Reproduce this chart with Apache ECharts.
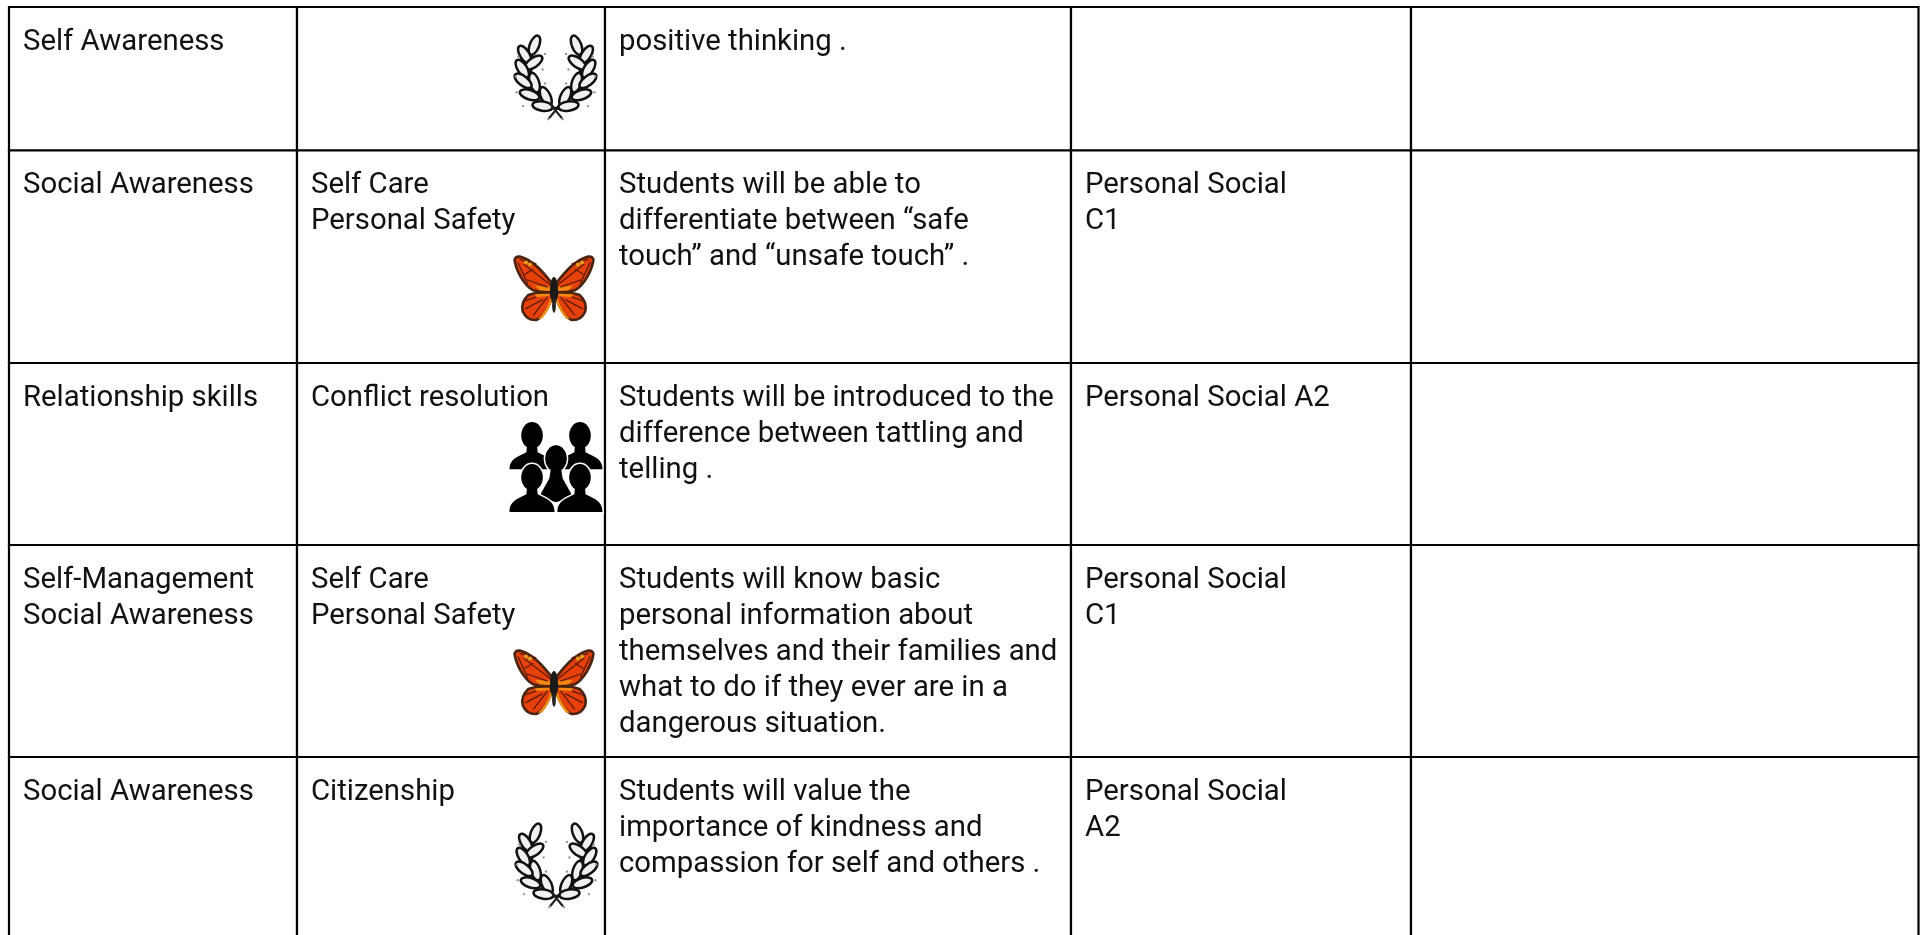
<!DOCTYPE html>
<html><head><meta charset="utf-8">
<style>html,body{margin:0;padding:0;background:#fff}#c{width:1925px;height:935px}</style>
<script src="https://cdn.jsdelivr.net/npm/echarts@6/dist/echarts.min.js"></script>
</head><body><div id="c"></div>
<script>
// Table content
const col1 = [["Self Awareness"],["Social Awareness"],["Relationship skills"],["Self-Management","Social Awareness"],["Social Awareness"]];
const col2 = [[],["Self Care","Personal Safety"],["Conflict resolution"],["Self Care","Personal Safety"],["Citizenship"]];
const col3 = [["positive thinking ."],
 ["Students will be able to","differentiate between “safe","touch” and “unsafe touch” ."],
 ["Students will be introduced to the","difference between tattling and","telling ."],
 ["Students will know basic","personal information about","themselves and their families and","what to do if they ever are in a","dangerous situation."],
 ["Students will value the","importance of kindness and","compassion for self and others ."]];
const col4 = [[],["Personal Social","C1"],["Personal Social A2"],["Personal Social","C1"],["Personal Social","A2"]];
const col5 = [[],[],[],[],[]];
const columns = [col1,col2,col3,col4,col5];
const icons = ["laurel","butterfly","people","butterfly","laurel"];
// Table grid edges on the page-sized value axes
const xEdges = [9,297,605,1071,1411,1918.5];
const yEdges = [7,150.5,363,545,757,950];
const iconBoxes = [[515,33,81,87],[514,256,80,66],[509,423,94,89],[514,650,80,66],[516,821,81,87]];

const FONT = 'Roboto';
const FS = 29.33, LH = 36;

// Laurel wreath in a 0..100 box
function laurel(box){
  const out=[]; const [x,y,w,h]=box; const sx=w/100, sy=h/100;
  const leaves=[[24,14,68],[12,25,122],[23,34,35],[9,41,122],[24,57,108],[10,55,142],[18,71,162],[38,73,115],[34,84,172]];
  const dots=[[37,24],[34,42],[4,27],[37,58],[1,50],[2,68],[10,84],[41,99]];
  for(const side of [1,-1]){
    const X=v=>side>0?v:100-v;
    out.push({type:'path',x,y,shape:{pathData:`M${X(52)*sx} ${88*sy} Q${X(10)*sx} ${72*sy} ${X(22)*sx} ${18*sy}`},style:{fill:'none',stroke:'#111',lineWidth:3}});
    out.push({type:'line',x,y,shape:{x1:X(42)*sx,y1:98*sy,x2:X(58)*sx,y2:80*sy},style:{stroke:'#222',lineWidth:2.2}});
    for(const l of leaves){
      const a=(side>0?l[2]:180-l[2])*Math.PI/180;
      out.push({type:'ellipse',x:x+X(l[0])*sx,y:y+l[1]*sy,rotation:a,
        shape:{cx:0,cy:0,rx:12.5*sx,ry:5.8*sx},style:{fill:'#f0f0f0',stroke:'#111',lineWidth:2.5}});
    }
    dots.forEach(p=>out.push({type:'circle',x:x+X(p[0])*sx,y:y+p[1]*sy,shape:{cx:0,cy:0,r:1.2},style:{fill:'#999'}}));
  }
  return out;
}

// Monarch butterfly in a 0..100 box
function butterfly(box){
  const [x,y,w,h]=box; const sx=w/100, sy=h/100; const out=[];
  const P=(d,fill,stroke,lw)=>out.push({type:'path',x,y,shape:{pathData:d.replace(/(-?[\d.]+) (-?[\d.]+)/g,(m,a,b)=>`${(+a*sx).toFixed(2)} ${(+b*sy).toFixed(2)}`)},style:{fill,stroke:stroke||null,lineWidth:lw||0}});
  for(const sd of [1,-1]){
    const X=v=>sd>0?v:100-v;
    P(`M${X(48)} 42 C${X(36)} 24 ${X(24)} 6 ${X(8)} 1 Q${X(0)} 0 ${X(1)} 8 C${X(3)} 22 ${X(12)} 44 ${X(24)} 52 Q${X(34)} 56 ${X(48)} 55 Z`,'#e8400a','#4a2410',2.6);
    P(`M${X(47)} 55 Q${X(30)} 54 ${X(18)} 59 Q${X(8)} 70 ${X(11)} 84 Q${X(16)} 98 ${X(28)} 97 Q${X(38)} 92 ${X(47)} 66 Z`,'#e8400a','#4a2410',2.6);
    P(`M${X(47)} 47 L${X(26)} 45 L${X(32)} 52 L${X(47)} 53 Z`,'#f28a12');
    P(`M${X(46)} 62 Q${X(40)} 84 ${X(30)} 95 L${X(35)} 95 Q${X(44)} 82 ${X(48)} 66 Z`,'#f28a12');
    P(`M${X(44)} 57 L${X(26)} 58 L${X(28)} 62 L${X(44)} 61 Z`,'#f28a12');
    P(`M${X(47)} 45 L${X(12)} 12 M${X(42)} 47 L${X(16)} 36 M${X(5)} 10 L${X(17)} 42 M${X(24)} 20 L${X(13)} 28 M${X(7)} 5 L${X(28)} 12`,'none','#5a1d08',1.3);
    P(`M${X(42)} 62 L${X(24)} 90 M${X(36)} 66 L${X(14)} 80 M${X(28)} 62 L${X(14)} 68`,'none','#5a1d08',1.3);
    P(`M${X(46)} 56 L${X(26)} 56`,'none','#4a2410',1.2);
    out.push({type:'circle',x:x+X(15)*sx,y:y+10*sy,shape:{cx:0,cy:0,r:2},style:{fill:'#e0a020'}});
    out.push({type:'circle',x:x+X(20)*sx,y:y+13*sy,shape:{cx:0,cy:0,r:2},style:{fill:'#e0a020'}});
  }
  out.push({type:'ellipse',x:x+50*sx,y:y+52*sy,shape:{cx:0,cy:0,rx:5*sx,ry:20*sy},style:{fill:'#1c1a18'}});
  out.push({type:'ellipse',x:x+50*sx,y:y+75*sy,shape:{cx:0,cy:0,rx:2.4*sx,ry:11*sy},style:{fill:'#2a2420'}});
  return out;
}

// Five silhouettes in a 0..100 box
function people(box){
  const [x,y,w,h]=box; const sx=w/100, sy=h/100; const out=[];
  const person=(cx,top,sw,bot,halo,pointed)=>{
    const body = pointed
      ? `M${(cx-5)*sx} ${(top+22)*sy} L${(cx+5)*sx} ${(top+22)*sy} L${(cx+7)*sx} ${(top+36)*sy} L${(cx+sw)*sx} ${(bot-6)*sy} L${cx*sx} ${bot*sy} L${(cx-sw)*sx} ${(bot-6)*sy} L${(cx-7)*sx} ${(top+36)*sy} Z`
      : `M${(cx-5)*sx} ${(top+22)*sy} L${(cx+5)*sx} ${(top+22)*sy} L${(cx+6)*sx} ${(top+33)*sy} C${(cx+sw*0.6)*sx} ${(top+38)*sy} ${(cx+sw)*sx} ${(top+40)*sy} ${(cx+sw)*sx} ${bot*sy} L${(cx-sw)*sx} ${bot*sy} C${(cx-sw)*sx} ${(top+40)*sy} ${(cx-sw*0.6)*sx} ${(top+38)*sy} ${(cx-6)*sx} ${(top+33)*sy} Z`;
    const head={type:'ellipse',x:x+cx*sx,y:y+(top+14)*sy,shape:{cx:0,cy:0,rx:11.5*sx,ry:15*sy}};
    if(halo){
      out.push({...head,style:{fill:'#fff',stroke:'#fff',lineWidth:3}});
      out.push({type:'path',x,y,shape:{pathData:body},style:{fill:'#fff',stroke:'#fff',lineWidth:3}});
    }
    out.push({...head,style:{fill:'#000'}});
    out.push({type:'path',x,y,shape:{pathData:body},style:{fill:'#000'}});
  };
  person(24.5,0,24,52,false);
  person(75.5,0,24,52,false);
  person(50,26,18,89,true,true);
  person(24.5,47,24,100,true);
  person(75.5,47,24,100,true);
  return out;
}
const iconFns={laurel,butterfly,people};

// Flat cell rows for the custom series
const cellRows=[];
columns.forEach((col,c)=>col.forEach((lines,r)=>{cellRows.push([xEdges[c],yEdges[r],xEdges[c+1],yEdges[r+1],lines.join('\n')]);}));
const iconRows=icons.map((k,i)=>[...iconBoxes[i],k]);

const chart=echarts.init(document.getElementById('c'),null,{renderer:'canvas'});
chart.setOption({
  animation:false,
  backgroundColor:'#ffffff',
  grid:{left:0,right:0,top:0,bottom:0},
  xAxis:{type:'value',min:0,max:1925,show:false},
  yAxis:{type:'value',min:0,max:935,inverse:true,show:false},
  series:[
   {type:'custom',coordinateSystem:'cartesian2d',silent:true,clip:true,encode:{x:[0,2],y:[1,3]},
    data:cellRows,
    renderItem(p,api){
      const a=api.coord([api.value(0),api.value(1)]), b=api.coord([api.value(2),api.value(3)]);
      const txt=cellRows[p.dataIndex][4];
      return {type:'group',children:[
        {type:'rect',shape:{x:a[0],y:a[1],width:b[0]-a[0],height:b[1]-a[1]},style:{fill:'#fff',stroke:'#000',lineWidth:2.2}},
        {type:'text',x:a[0]+14,y:a[1]+17.5,style:{text:txt,fontSize:FS,fontFamily:FONT,fontWeight:400,fill:'#111',lineHeight:LH,textAlign:'left',textVerticalAlign:'top'}}
      ]};
    }},
   {type:'custom',coordinateSystem:'cartesian2d',silent:true,clip:true,
    data:iconRows,z:5,
    renderItem(p,api){
      const a=api.coord([api.value(0),api.value(1)]);
      const r=iconRows[p.dataIndex];
      return {type:'group',children:iconFns[r[4]]([a[0],a[1],r[2],r[3]])};
    }}
  ]
});
</script></body></html>
